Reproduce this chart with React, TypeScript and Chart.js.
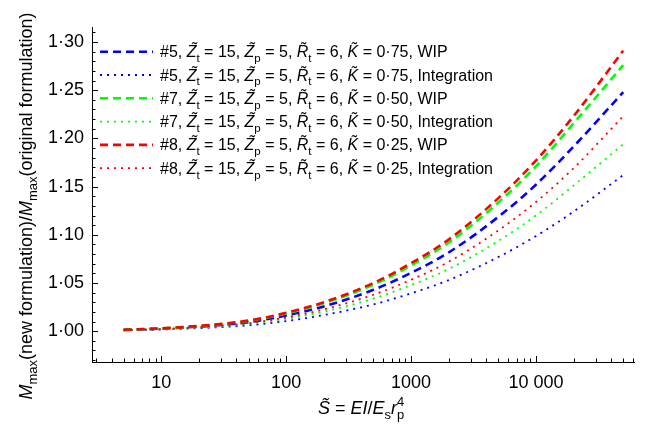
import React, { useEffect, useRef } from "react";
import { Chart, registerables } from "chart.js";

Chart.register(...registerables);

// ---------- data ----------
const sValues = [5, 10, 20, 50, 100, 200, 500, 1000, 2000, 5000, 10000, 20000, 50000];

const case5Wip = [1.0013, 1.0026, 1.0047, 1.0094, 1.0163, 1.0257, 1.0429, 1.0605, 1.0816, 1.1186, 1.152, 1.1915, 1.248];
const case5Int = [1.0008, 1.0017, 1.0031, 1.0061, 1.0105, 1.0167, 1.0278, 1.0392, 1.053, 1.0769, 1.0986, 1.124, 1.162];
const case7Wip = [1.0015, 1.0029, 1.0053, 1.0106, 1.0183, 1.0289, 1.0482, 1.0681, 1.0918, 1.1334, 1.171, 1.2155, 1.276];
const case7Int = [1.001, 1.002, 1.0037, 1.0074, 1.0128, 1.0203, 1.0338, 1.0478, 1.0644, 1.0936, 1.12, 1.151, 1.194];
const case8Wip = [1.0015, 1.003, 1.0055, 1.011, 1.019, 1.03, 1.05, 1.0705, 1.095, 1.138, 1.177, 1.223, 1.291];
const case8Int = [1.0011, 1.0023, 1.0042, 1.0083, 1.0143, 1.0226, 1.0378, 1.0533, 1.072, 1.1045, 1.134, 1.169, 1.223];

const caseNumbers = ["#5", "#5", "#7", "#7", "#8", "#8"];
const kValues = ["0·75", "0·75", "0·50", "0·50", "0·25", "0·25"];
const methods = ["WIP", "Integration", "WIP", "Integration", "WIP", "Integration"];
const seriesValues = [case5Wip, case5Int, case7Wip, case7Int, case8Wip, case8Int];

const xMajorTicks = [10, 100, 1000, 10000];
const xMajorLabels = ["10", "100", "1000", "10 000"];
const yMajorTicks = [1.0, 1.05, 1.1, 1.15, 1.2, 1.25, 1.3];

// ---------- styles ----------
const FONT = '"Liberation Sans", Arial, sans-serif';
const colors = ["#0000ff", "#0000ff", "#00ff00", "#00ff00", "#ff0000", "#ff0000"];
const DASHED = [8, 5];
const DOTTED = [2, 5];
const X_MIN = 2.79;
const X_MAX = 61000;
const Y_MIN = 0.968;
const Y_MAX = 1.3156;

type Seg = { t: string; it?: boolean; sub?: boolean; sup?: boolean; stack?: boolean };

function drawRich(ctx: CanvasRenderingContext2D, segs: Seg[], x: number, y: number, size: number, draw: boolean): number {
  let cx = x;
  let lastSubStart = x;
  for (const seg of segs) {
    const small = seg.sub || seg.sup;
    const fs = small ? size * 0.72 : size;
    ctx.font = `${seg.it ? "italic " : ""}${fs}px ${FONT}`;
    const w = ctx.measureText(seg.t).width;
    const dy = seg.sub ? size * 0.3 : seg.sup ? -size * 0.45 : 0;
    const sx = seg.stack ? lastSubStart : cx;
    if (draw) ctx.fillText(seg.t, sx, y + dy);
    if (seg.stack) {
      cx = Math.max(cx, sx + w);
    } else {
      if (seg.sub) lastSubStart = cx;
      cx += w;
    }
  }
  return cx - x;
}

function legendSegs(i: number): Seg[] {
  return [
    { t: `${caseNumbers[i]}, ` },
    { t: "Z\u0303", it: true },
    { t: "t", sub: true },
    { t: " = 15, " },
    { t: "Z\u0303", it: true },
    { t: "p", sub: true },
    { t: " = 5, " },
    { t: "R\u0303", it: true },
    { t: "t", sub: true },
    { t: " = 6, " },
    { t: "K\u0303", it: true },
    { t: ` = ${kValues[i]}, ${methods[i]}` },
  ];
}

const yTitle: Seg[] = [
  { t: "M", it: true },
  { t: "max", sub: true },
  { t: "(new formulation)/" },
  { t: "M", it: true },
  { t: "max", sub: true },
  { t: "(original formulation)" },
];

const xTitle: Seg[] = [
  { t: "S\u0303", it: true },
  { t: " = " },
  { t: "EI", it: true },
  { t: "/" },
  { t: "E", it: true },
  { t: "s", sub: true },
  { t: "r", it: true },
  { t: "p", sub: true },
  { t: "4", sup: true, stack: true },
];

const isYMajor = (v: number) => yMajorTicks.some((m) => Math.abs(m - v) < 1e-6);
const isXMajor = (v: number) => xMajorTicks.some((m) => Math.abs(m - v) < 1e-6 * m);

const decorPlugin = {
  id: "decor",
  afterDraw(chart: any) {
    const ctx: CanvasRenderingContext2D = chart.ctx;
    const xs = chart.scales.x;
    const ys = chart.scales.y;
    const area = chart.chartArea;
    ctx.save();
    // inward ticks
    ctx.strokeStyle = "#000";
    ctx.lineWidth = 1;
    ctx.beginPath();
    for (const t of xs.ticks) {
      const px = Math.round(xs.getPixelForValue(t.value)) + 0.5;
      const len = isXMajor(t.value) ? 6 : 3.5;
      ctx.moveTo(px, area.bottom);
      ctx.lineTo(px, area.bottom - len);
    }
    for (const t of ys.ticks) {
      const py = Math.round(ys.getPixelForValue(t.value)) + 0.5;
      const len = isYMajor(t.value) ? 6 : 3.5;
      ctx.moveTo(area.left, py);
      ctx.lineTo(area.left + len, py);
    }
    ctx.stroke();

    // legend
    ctx.fillStyle = "#000";
    ctx.textBaseline = "alphabetic";
    ctx.textAlign = "left";
    const rowStart = 51.7;
    const rowGap = 23.3;
    for (let i = 0; i < seriesValues.length; i++) {
      const ry = rowStart + i * rowGap;
      ctx.save();
      ctx.strokeStyle = colors[i];
      const dashed = i % 2 === 0;
      ctx.lineWidth = dashed ? 2.6 : 1.8;
      ctx.setLineDash(dashed ? DASHED : DOTTED);
      ctx.beginPath();
      ctx.moveTo(100, ry);
      ctx.lineTo(153, ry);
      ctx.stroke();
      ctx.restore();
      drawRich(ctx, legendSegs(i), 160, ry + 5.5, 16, true);
    }

    // x title
    const xw = drawRich(ctx, xTitle, 0, 0, 18, false);
    drawRich(ctx, xTitle, 361 - xw / 2, 414, 18, true);

    // y title
    const yw = drawRich(ctx, yTitle, 0, 0, 18, false);
    ctx.translate(32, 206);
    ctx.rotate(-Math.PI / 2);
    drawRich(ctx, yTitle, -yw / 2, 0, 18, true);
    ctx.restore();
  },
};

function buildXTicks(): number[] {
  const out: number[] = [];
  for (let e = 0; e <= 4; e++) {
    for (let m = 1; m <= 9; m++) {
      const v = m * Math.pow(10, e);
      if (v >= X_MIN && v <= X_MAX) out.push(v);
    }
  }
  return out;
}

function buildYTicks(): number[] {
  const out: number[] = [];
  for (let k = 97; k <= 131; k++) out.push(k / 100);
  return out;
}

export default function App() {
  const ref = useRef<HTMLCanvasElement | null>(null);

  useEffect(() => {
    if (!ref.current) return;
    const datasets = seriesValues.map((vals, i) => ({
      label: `${caseNumbers[i]}, K = ${kValues[i]}, ${methods[i]}`,
      data: sValues.map((s, j) => ({ x: s, y: vals[j] })),
      borderColor: colors[i],
      backgroundColor: colors[i],
      borderWidth: i % 2 === 0 ? 2.6 : 1.8,
      borderDash: i % 2 === 0 ? DASHED : DOTTED,
      pointRadius: 0,
      fill: false,
      cubicInterpolationMode: "monotone" as const,
      order: i < 2 ? 2 : i < 4 ? 1 : 0,
    }));
    const chart = new Chart(ref.current, {
      type: "line",
      data: { datasets },
      options: {
        animation: false,
        responsive: false,
        layout: { padding: { left: 0, top: 27, right: 15, bottom: 0 } },
        plugins: { legend: { display: false }, tooltip: { enabled: false } },
        scales: {
          x: {
            type: "logarithmic",
            min: X_MIN,
            max: X_MAX,
            grid: { display: false, drawTicks: false },
            border: { display: true, color: "#000", width: 1 },
            afterBuildTicks: (scale: any) => {
              scale.ticks = buildXTicks().map((v) => ({ value: v }));
            },
            afterFit: (scale: any) => {
              scale.height = 68;
            },
            ticks: {
              autoSkip: false,
              maxRotation: 0,
              minRotation: 0,
              padding: 10,
              color: "#000",
              font: { family: FONT, size: 18 },
              callback: (v: any) => {
                const idx = xMajorTicks.findIndex((m) => Math.abs(m - Number(v)) < 1e-6 * m);
                return idx >= 0 ? xMajorLabels[idx] : "";
              },
            },
          },
          y: {
            type: "linear",
            min: Y_MIN,
            max: Y_MAX,
            grid: { display: false, drawTicks: false },
            border: { display: true, color: "#000", width: 1 },
            afterBuildTicks: (scale: any) => {
              scale.ticks = buildYTicks().map((v) => ({ value: v }));
            },
            afterFit: (scale: any) => {
              scale.width = 92;
            },
            ticks: {
              autoSkip: false,
              padding: 8,
              color: "#000",
              font: { family: FONT, size: 18 },
              callback: (v: any) => (isYMajor(Number(v)) ? Number(v).toFixed(2).replace(".", "·") : ""),
            },
          },
        },
      },
      plugins: [decorPlugin],
    });
    return () => chart.destroy();
  }, []);

  return (
    <div style={{ position: "absolute", left: 0, top: 0, width: 649, height: 430, background: "#fff" }}>
      <canvas ref={ref} width={649} height={430} style={{ display: "block" }} />
    </div>
  );
}
